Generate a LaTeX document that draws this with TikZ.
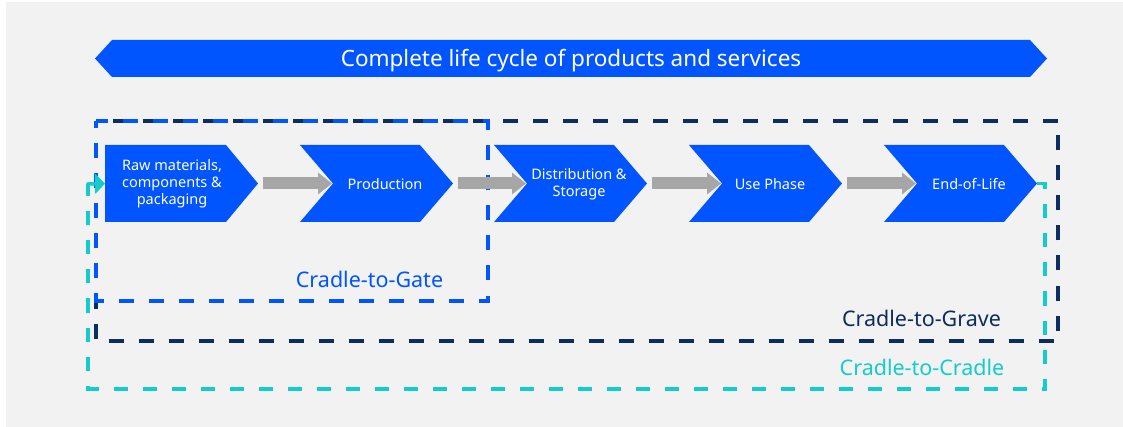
\documentclass[tikz,border=0pt]{standalone}
\usepackage{fontspec}
\setmainfont{Noto Sans}
\usetikzlibrary{arrows.meta}
\definecolor{bgc}{HTML}{F2F2F2}
\definecolor{chblue}{HTML}{0055FF}
\definecolor{navyc}{HTML}{0B2D5F}
\definecolor{tealc}{HTML}{14CCCC}
\definecolor{arrgray}{HTML}{A6A6A6}
\begin{document}
\begin{tikzpicture}[x=1pt,y=-1pt,
 chev/.pic={\fill[chblue] (0,-38.5) -- (120,-38.5) -- (153,0) -- (120,38.5) -- (0,38.5) -- (33,0) -- cycle;},
 steptext/.style={text=white, align=center, font=\fontsize{14.5}{17}\selectfont, inner sep=0pt},
 flowarrow/.style={draw=arrgray, line width=12pt, -{Triangle[length=14pt,width=21pt]}},
 scopebox/.style={line width=3.4pt, dash pattern=on 15pt off 15pt, dash phase=7.5pt},
 scopelabel/.style={font=\fontsize{21.5}{24}\selectfont, inner sep=0pt},
]
\useasboundingbox (0,0) rectangle (1123,427);
\fill[bgc] (6,2) rectangle (1123,427);
% banner
\fill[chblue] (95,58.5) -- (112,40) -- (1030,40) -- (1047,58.5) -- (1030,77) -- (112,77) -- cycle;
\node[text=white, inner sep=0pt, font=\fontsize{22.5}{26}\selectfont] (title) at (571,60.5) {Complete life cycle of products and services};
% scope boxes
\draw[scopebox, draw=navyc] (96,121) rectangle (1058,341);
\draw[scopebox, draw=chblue] (96,121) rectangle (488,301);
% first chevron (flat left)
\fill[chblue] (105,145) -- (226,145) -- (258,183.5) -- (226,222) -- (105,222) -- cycle;
\coordinate (s1in) at (105,183.5);
\coordinate (s1out) at (258,183.5);
% other chevrons
\foreach \i/\L in {2/300,3/494,4/689,5/884}{
  \pic at (\L,183.5) {chev};
  \coordinate (s\i in) at (\L+33,183.5);
  \coordinate (s\i out) at (\L+153,183.5);
}
\node[steptext] (raw) at (172,183.5) {Raw materials,\\components \&\\packaging};
\node[steptext] (prod) at (385,184) {Production};
\node[steptext] (dist) at (579,184) {Distribution \&\\Storage};
\node[steptext] (use) at (770,184) {Use Phase};
\node[steptext] (eol) at (969,184) {End-of-Life};
% flow arrows
\foreach \a/\b in {1/2,2/3,3/4,4/5}{
  \draw[flowarrow] ([xshift=5pt]s\a out) -- ([xshift=-1pt]s\b in);
}
% cradle-to-cradle loop
\draw[draw=tealc, line width=3.4pt, dash pattern=on 14pt off 15pt, dash phase=0pt]
  (s5out) -- (1045,183.5) -- (1045,389) -- (88,389) -- (88,184);
\draw[draw=tealc, line width=3.4pt, -{Triangle[length=10pt,width=20pt]}] (86.5,184) -- (s1in);
% labels
\node[scopelabel, text=chblue] (c2gate) at (369.5,279) {Cradle-to-Gate};
\node[scopelabel, text=navyc] (c2grave) at (921.5,318) {Cradle-to-Grave};
\node[scopelabel, text=tealc] (c2cradle) at (922,367) {Cradle-to-Cradle};
\end{tikzpicture}
\end{document}
